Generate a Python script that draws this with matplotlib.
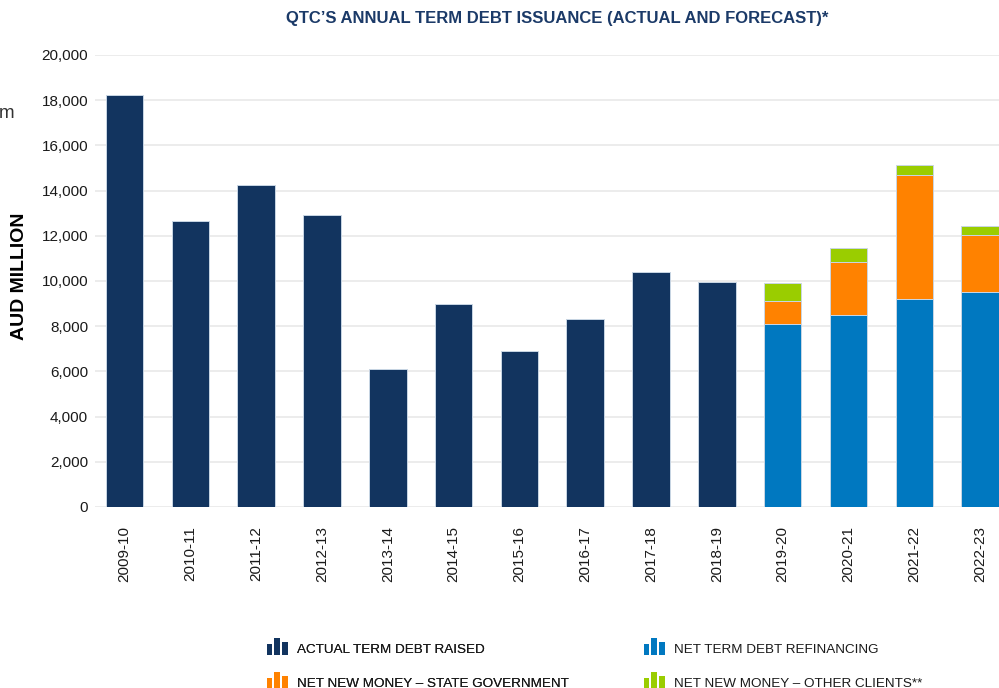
import matplotlib
matplotlib.use("Agg")
import matplotlib.pyplot as plt
import matplotlib.font_manager as fm
from matplotlib.legend_handler import HandlerBase
from matplotlib.patches import Rectangle
from matplotlib.ticker import FuncFormatter
import numpy as np

years = ["2009-10", "2010-11", "2011-12", "2012-13", "2013-14", "2014-15", "2015-16",
         "2016-17", "2017-18", "2018-19", "2019-20", "2020-21", "2021-22", "2022-23"]
actual = [18250, 12650, 14250, 12900, 6100, 9000, 6900, 8300, 10400, 9950]
forecast_years = ["2019-20", "2020-21", "2021-22", "2022-23"]
refinancing = [8100, 8500, 9200, 9500]
state_gov = [1000, 2350, 5500, 2550]
other_clients = [800, 600, 450, 400]

C_NAVY = "#12345f"
C_BLUE = "#0078c0"
C_ORANGE = "#ff8200"
C_GREEN = "#9acd00"

names = {f.name for f in fm.fontManager.ttflist}
BASE = "Liberation Sans" if "Liberation Sans" in names else "DejaVu Sans"
NARROW = "Liberation Sans Narrow" if "Liberation Sans Narrow" in names else BASE
plt.rcParams["font.family"] = [BASE, "DejaVu Sans"]

fig = plt.figure(figsize=(9.99, 6.88), dpi=100)
ax = fig.add_axes([95 / 999, (688 - 507) / 688, 1 - 95 / 999, (507 - 55) / 688])

x = np.arange(len(years))
w = 0.571
edge = dict(edgecolor="#c9d6e4", linewidth=0.7)
ax.bar(x[:len(actual)], actual, width=w, color=C_NAVY, zorder=3, **edge)
fx = np.array([years.index(y) for y in forecast_years])
r = np.array(refinancing)
s = np.array(state_gov)
o = np.array(other_clients)
ax.bar(fx, r, width=w, color=C_BLUE, zorder=3, **edge)
ax.bar(fx, s, bottom=r, width=w, color=C_ORANGE, zorder=3, **edge)
ax.bar(fx, o, bottom=r + s, width=w, color=C_GREEN, zorder=3, **edge)

ax.set_xlim(-0.448, 13.287)
ax.set_ylim(0, 20000)
ax.set_yticks(np.arange(0, 20001, 2000))
ax.yaxis.set_major_formatter(FuncFormatter(lambda v, p: f"{int(v):,}"))
ax.set_xticks(x)
ax.set_xticklabels(years, rotation=90)
ax.tick_params(axis="both", length=0, labelsize=11, colors="#1a1a1a")
ax.tick_params(axis="y", pad=5)
ax.tick_params(axis="x", pad=14)
ax.grid(axis="y", color="#ebebeb", linewidth=1.3, zorder=0)
ax.set_axisbelow(True)
for sp in ax.spines.values():
    sp.set_visible(False)

fig.text(19.5 / 999, 1 - 276 / 688, "AUD MILLION", rotation=90, ha="center", va="center",
         fontsize=14, fontweight="bold", color="#000000")
fig.text(557 / 999, 1 - 18 / 688, "QTC\u2019S ANNUAL TERM DEBT ISSUANCE (ACTUAL AND FORECAST)*",
         ha="center", va="center", fontsize=12, fontweight="bold", color="#1b3a68",
         family=[NARROW, "DejaVu Sans"])
fig.text(-1 / 999, 1 - 113 / 688, "m", ha="left", va="center", fontsize=13.5, color="#333333")


class BarIcon(HandlerBase):
    def create_artists(self, legend, orig_handle, xdescent, ydescent, width, height, fontsize, trans):
        col = orig_handle.get_facecolor()
        bw = width * 0.27
        gap = (width - 3 * bw) / 2
        hs = [0.68, 1.05, 0.82]
        arts = []
        for i, h in enumerate(hs):
            rct = Rectangle((i * (bw + gap), -ydescent + height * 0.08), bw, height * h,
                            facecolor=col, edgecolor="none", transform=trans)
            arts.append(rct)
        return arts


def proxy(c):
    return Rectangle((0, 0), 1, 1, facecolor=c)


leg_kw = dict(frameon=False, handler_map={Rectangle: BarIcon()}, handlelength=1.57,
              handleheight=1.5, handletextpad=0.7, labelspacing=1.3, borderpad=0,
              borderaxespad=0, loc="upper left",
              prop={"family": [NARROW, "DejaVu Sans"], "size": 9.7})
l1 = fig.legend([proxy(C_NAVY), proxy(C_ORANGE)],
                ["ACTUAL TERM DEBT RAISED", "NET NEW MONEY \u2013 STATE GOVERNMENT"],
                bbox_to_anchor=(266.7 / 999, 1 - 640 / 688), **leg_kw)
fig.add_artist(l1)
l2 = fig.legend([proxy(C_BLUE), proxy(C_GREEN)],
                ["NET TERM DEBT REFINANCING", "NET NEW MONEY \u2013 OTHER CLIENTS**"],
                bbox_to_anchor=(643.7 / 999, 1 - 640 / 688), **leg_kw)
for lg in (l1, l2):
    for t in lg.get_texts():
        t.set_color("#1a1a1a")

fig.savefig("out.png", dpi=100)
